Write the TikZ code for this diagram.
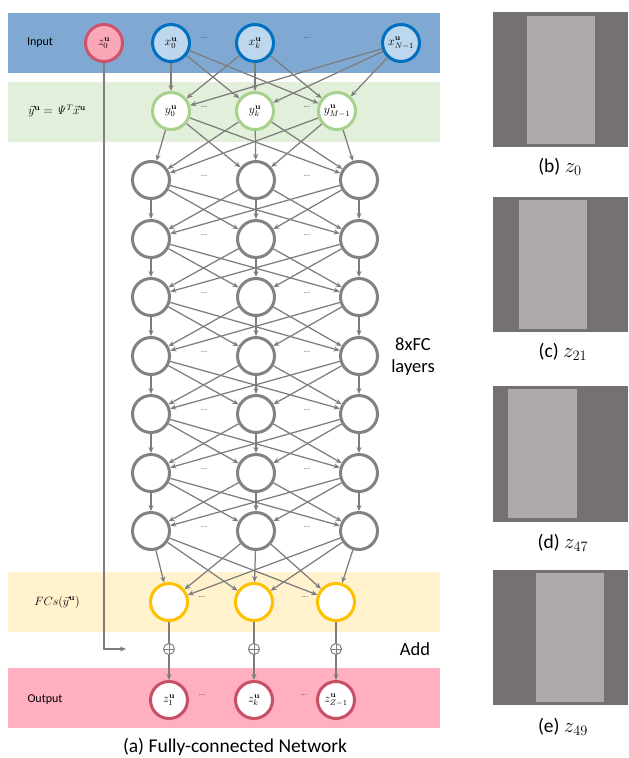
\documentclass[tikz,border=0pt]{standalone}
\usepackage[no-math]{fontspec}
\setmainfont{Carlito}
\usetikzlibrary{arrows.meta}

\definecolor{bandIn}{RGB}{127,168,211}
\definecolor{bandY}{RGB}{226,239,218}
\definecolor{bandF}{RGB}{255,242,204}
\definecolor{bandOut}{RGB}{255,175,191}
\definecolor{inBlue}{RGB}{0,112,192}
\definecolor{inFill}{RGB}{189,215,238}
\definecolor{zRed}{RGB}{205,84,106}
\definecolor{zFill}{RGB}{250,168,184}
\definecolor{yGreen}{RGB}{169,209,142}
\definecolor{fGold}{RGB}{255,192,0}
\definecolor{outRed}{RGB}{200,80,102}
\definecolor{hidGray}{RGB}{130,130,130}
\definecolor{edgeGray}{RGB}{125,125,125}
\definecolor{panelDark}{RGB}{118,113,113}
\definecolor{panelLight}{RGB}{174,170,170}

\begin{document}
\begin{tikzpicture}[x=1pt,y=-1pt,
  neuron/.style={circle, minimum size=37pt, inner sep=0pt, line width=3pt,
    draw=hidGray, fill=white, font=\fontsize{11.5}{13}\selectfont},
  inneuron/.style={neuron, draw=inBlue, fill=inFill},
  zneuron/.style={neuron, draw=zRed, fill=zFill},
  yneuron/.style={neuron, draw=yGreen},
  fneuron/.style={neuron, draw=fGold},
  oneuron/.style={neuron, draw=outRed},
  edge/.style={draw=edgeGray, line width=1.25pt, -{Stealth[length=6pt,width=5pt]}},
  dotsl/.style={font=\fontsize{8}{9}\selectfont, text=black!70},
  sidelabel/.style={font=\fontsize{12}{14}\selectfont},
  biglabel/.style={font=\fontsize{18.5}{22}\selectfont},
  plusnode/.style={circle, draw=edgeGray, line width=1pt, minimum size=11pt, inner sep=0pt,
    path picture={\draw[edgeGray, line width=1pt]
      (path picture bounding box.north) -- (path picture bounding box.south)
      (path picture bounding box.west) -- (path picture bounding box.east);}}
]
\useasboundingbox (0,0) rectangle (629,758);

% horizontal bands
\fill[bandIn] (8,13) rectangle (440,73);
\fill[bandY] (8,82) rectangle (440,142);
\fill[bandF] (8,572) rectangle (440,632);
\fill[bandOut] (8,668) rectangle (440,728);

% band labels
\node[sidelabel] (lin) at (40,43) {Input};
\node[font=\fontsize{11.5}{13}\selectfont] (ly) at (57,111)
  {$\vec{y}^{\mathbf{u}}=\mathit{\Psi}^{T}\vec{x}^{\mathbf{u}}$};
\node[font=\fontsize{11.5}{13}\selectfont] (lf) at (57,602) {$FCs(\vec{y}^{\mathbf{u}})$};
\node[sidelabel] (lout) at (45,700) {Output};

% input layer
\node[zneuron] (z0) at (104,43) {$z_0^{\mathbf{u}}$};
\node[inneuron] (ia) at (171,43) {$x_0^{\mathbf{u}}$};
\node[inneuron] (ib) at (255,43) {$x_k^{\mathbf{u}}$};
\node[inneuron] (ic) at (401,43) {$x_{N-1}^{\mathbf{u}}$};
\node[dotsl] (d1) at (204,38) {...};
\node[dotsl] (d2) at (307,38) {...};

% projected layer
\node[yneuron] (ya) at (171,111) {$y_0^{\mathbf{u}}$};
\node[yneuron] (yb) at (255,111) {$y_k^{\mathbf{u}}$};
\node[yneuron] (yc) at (337,111) {$y_{M-1}^{\mathbf{u}}$};
\node[dotsl] (d3) at (204,107) {...};
\node[dotsl] (d4) at (307,107) {...};

% hidden fully-connected layers
\foreach \r/\yy in {1/180,2/239,3/297,4/356,5/414,6/473,7/531}{
  \node[neuron] (h\r a) at (151,\yy) {};
  \node[neuron] (h\r b) at (256,\yy) {};
  \node[neuron] (h\r c) at (359,\yy) {};
  \node[dotsl] (dh\r a) at (204,\yy-4) {...};
  \node[dotsl] (dh\r b) at (307,\yy-4) {...};
}

% FC output layer
\node[fneuron] (fa) at (169,602) {};
\node[fneuron] (fb) at (254,602) {};
\node[fneuron] (fc) at (336,602) {};
\node[dotsl] (d5) at (202,597) {...};
\node[dotsl] (d6) at (305,597) {...};

% adders
\node[plusnode] (pa) at (169,649) {};
\node[plusnode] (pb) at (254,649) {};
\node[plusnode] (pc) at (336,649) {};

% output layer
\node[oneuron] (oa) at (169,700) {$z_1^{\mathbf{u}}$};
\node[oneuron] (ob) at (254,700) {$z_k^{\mathbf{u}}$};
\node[oneuron] (oc) at (336,700) {$z_{Z-1}^{\mathbf{u}}$};
\node[dotsl] (d7) at (202,695) {...};
\node[dotsl] (d8) at (304,695) {...};

% full connections between consecutive layers
\foreach \s/\t in {i/y, y/h1, h1/h2, h2/h3, h3/h4, h4/h5, h5/h6, h6/h7, h7/f}{
  \foreach \a in {a,b,c}{
    \foreach \b in {a,b,c}{
      \draw[edge] (\s\a) -- (\t\b);
    }
  }
}

% adder connections
\foreach \c in {a,b,c}{
  \draw[edgeGray, line width=1.25pt] (f\c) -- (p\c);
  \draw[edge] (p\c) -- (o\c);
}

% skip connection from z0
\coordinate (skipend) at (126,649);
\draw[edge, line width=1.4pt] (z0.south) |- (skipend);

% side annotations
\node[biglabel, align=center] (fcl) at (413,357) {8xFC\\layers};
\node[biglabel] (addl) at (415,649) {Add};
\node[font=\fontsize{19.5}{23}\selectfont] (capa) at (235,747) {(a) Fully-connected Network};

% sample outputs
\fill[panelDark] (493,12) rectangle (628,147);
\fill[panelLight] (527,16) rectangle (595,144);
\node[font=\fontsize{19.5}{23}\selectfont] (capb) at (560,167) {(b) $z_0$};

\fill[panelDark] (493,197) rectangle (628,332);
\fill[panelLight] (519,200) rectangle (587,329);
\node[font=\fontsize{19.5}{23}\selectfont] (capc) at (563,352) {(c) $z_{21}$};

\fill[panelDark] (493,386) rectangle (628,522);
\fill[panelLight] (508,389) rectangle (577,518);
\node[font=\fontsize{19.5}{23}\selectfont] (capd) at (563,543) {(d) $z_{47}$};

\fill[panelDark] (493,570) rectangle (628,705);
\fill[panelLight] (536,573) rectangle (604,702);
\node[font=\fontsize{19.5}{23}\selectfont] (cape) at (563,727) {(e) $z_{49}$};
\end{tikzpicture}
\end{document}
